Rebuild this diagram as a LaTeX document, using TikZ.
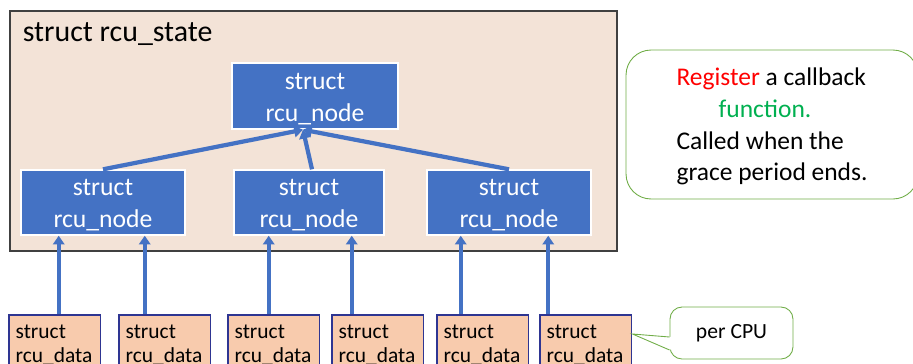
\documentclass[tikz,border=0pt]{standalone}
\usepackage{fontspec}
\setmainfont{Carlito}
\usetikzlibrary{arrows.meta}

\definecolor{nodeblue}{HTML}{4472C4}
\definecolor{statefill}{HTML}{F3E3D7}
\definecolor{dataorange}{HTML}{F8CBAD}
\definecolor{databorder}{HTML}{2E3592}
\definecolor{notegreen}{HTML}{70AD47}
\definecolor{funcgreen}{HTML}{00B050}

\begin{document}
\begin{tikzpicture}[
    x=0.02cm, y=-0.02cm,
    every node/.style={align=center},
    statebox/.style={rectangle, draw=black!75, line width=0.7pt, fill=statefill,
                     minimum width=12.14cm, minimum height=4.8cm, inner sep=0pt},
    rcunode/.style={rectangle, draw=white, line width=0.8pt, fill=nodeblue,
                    text=white, font=\fontsize{14.6}{18.2}\selectfont,
                    minimum width=3.28cm, minimum height=1.3cm, inner sep=0pt},
    rcudata/.style={rectangle, draw=databorder, line width=0.9pt, fill=dataorange,
                    anchor=north west, text width=44.5pt, align=left,
                    minimum height=1.2cm, inner xsep=3.9pt, inner ysep=0pt,
                    font=\fontsize{12.2}{13.7}\selectfont},
    note/.style={rectangle, rounded corners=0.5cm, draw=notegreen, line width=0.5pt,
                 fill=white, inner sep=0pt},
    arr/.style={draw=nodeblue, line width=2.4pt,
                -{Triangle[width=6.5pt, length=5pt]}},
]
\useasboundingbox (0,0) rectangle (913,363);

% ---------- rcu_state ----------
\node[statebox] (state) at (313.5, 131) {};
\node[anchor=base west, inner sep=0pt, font=\fontsize{17}{20}\selectfont]
    (title) at (22.5, 41) {struct rcu\_state};

% ---------- rcu_node tree ----------
\node[rcunode, minimum width=3.32cm, minimum height=1.32cm] (top) at (315, 96)
    {\strut struct\\rcu\_node};
\node[rcunode] (m1) at (103, 202.5) {\strut struct\\rcu\_node};
\node[rcunode, minimum width=3.0cm] (m2) at (309, 202.5) {\strut struct\\rcu\_node};
\node[rcunode] (m3) at (509, 202.5) {\strut struct\\rcu\_node};

% ---------- per-CPU rcu_data ----------
\node[rcudata] (d1) at (8, 314)   {struct\\rcu\_data};
\node[rcudata] (d2) at (118, 314) {struct\\rcu\_data};
\node[rcudata] (d3) at (227, 314) {struct\\rcu\_data};
\node[rcudata] (d4) at (331, 314) {struct\\rcu\_data};
\node[rcudata] (d5) at (436, 314) {struct\\rcu\_data};
\node[rcudata] (d6) at (539, 314) {struct\\rcu\_data};

% ---------- Edges ----------
\draw[arr] (m1.north) -- ([xshift=-0.24cm]top.south);
\draw[arr] (m3.north) -- ([xshift=-0.24cm]top.south);
\draw[arr] ([xshift=0.06cm]m2.north) -- ([xshift=-0.24cm]top.south);

\draw[arr] ([xshift=0.08cm]d1.north)  -- ([xshift=0.08cm]d1.north |- m1.south);
\draw[arr] ([xshift=-0.4cm]d2.north)  -- ([xshift=-0.4cm]d2.north |- m1.south);
\draw[arr] ([xshift=-0.1cm]d3.north)  -- ([xshift=-0.1cm]d3.north |- m2.south);
\draw[arr] ([xshift=-0.52cm]d4.north) -- ([xshift=-0.52cm]d4.north |- m2.south);
\draw[arr] ([xshift=-0.44cm]d5.north) -- ([xshift=-0.44cm]d5.north |- m3.south);
\draw[arr] ([xshift=-0.75cm]d6.north) -- ([xshift=-0.75cm]d6.north |- m3.south);

% ---------- Notes ----------
\node[note, minimum width=5.84cm, minimum height=2.98cm, align=left,
      font=\fontsize{14.5}{18}\selectfont] (callback) at (772, 124.5)
    {\strut\textcolor{red}{Register} a callback\\
     \hspace*{24pt}\textcolor{funcgreen}{function.}\\
     Called when the\\
     grace period ends.};

\node[note, rounded corners=0.24cm, minimum width=2.46cm, minimum height=1.04cm,
      font=\fontsize{12.3}{14}\selectfont] (percpu) at (731.5, 333) {per CPU};

\coordinate (tip) at ([yshift=-0.4cm]d6.north east);
\fill[white] (tip) -- ([xshift=0.04cm, yshift=-0.08cm]percpu.west)
    -- ([xshift=0.04cm, yshift=-0.34cm]percpu.west) -- cycle;
\draw[notegreen, line width=0.5pt] ([yshift=-0.08cm]percpu.west) -- (tip)
    -- ([yshift=-0.34cm]percpu.west);

\end{tikzpicture}
\end{document}
